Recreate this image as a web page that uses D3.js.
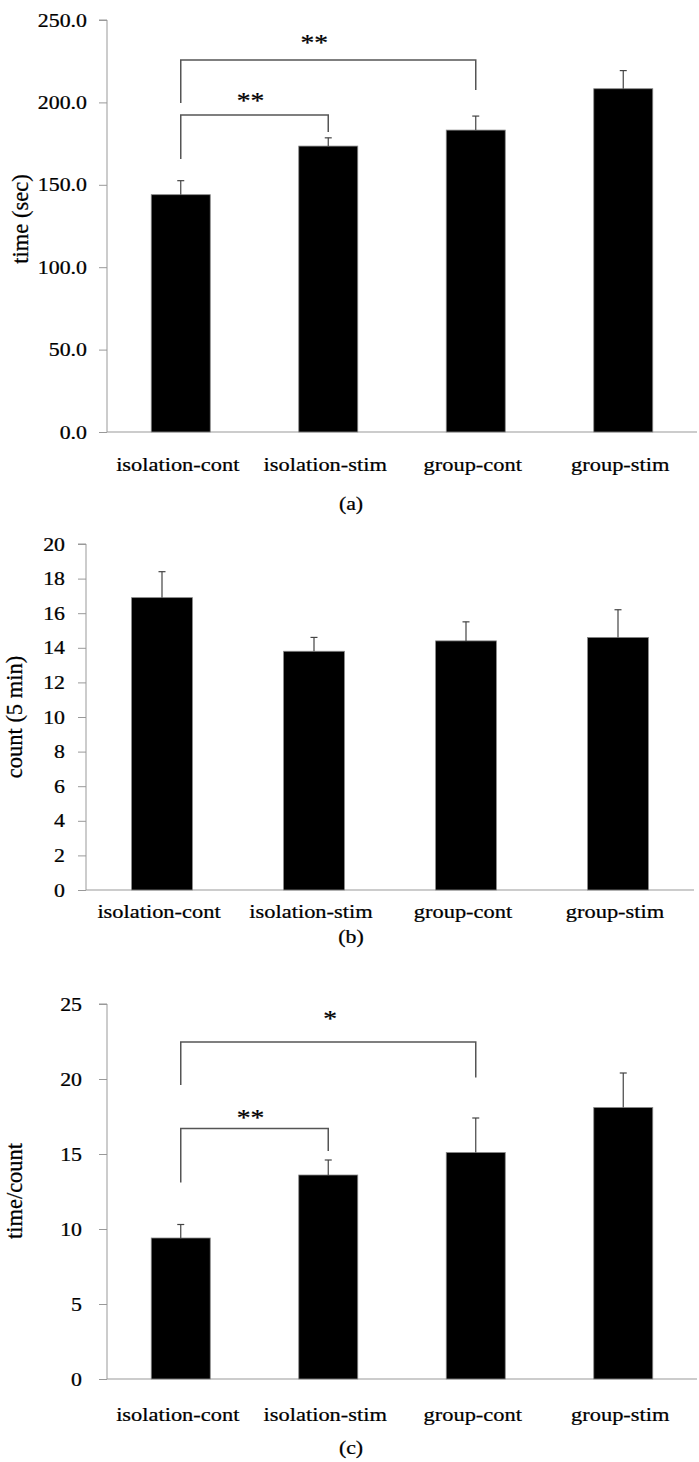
<!DOCTYPE html>
<html><head><meta charset="utf-8">
<script src="https://cdn.jsdelivr.net/npm/d3@7"></script>
<style>body{margin:0;background:#fff}svg{display:block}text{font-family:"Liberation Serif","DejaVu Serif",serif;fill:#000;stroke:#000;stroke-width:0.25px}</style>
</head><body><svg id="c" width="699" height="1462"></svg>
<script>
const categories = ["isolation-cont","isolation-stim","group-cont","group-stim"];
const timeMeans = [144.0, 173.5, 183.2, 208.3];
const timeErrs = [8.5, 5.0, 8.5, 11.0];
const timeTicks = [0, 50, 100, 150, 200, 250];
const countMeans = [16.9, 13.8, 14.4, 14.6];
const countErrs = [1.5, 0.8, 1.1, 1.6];
const countTicks = [0, 2, 4, 6, 8, 10, 12, 14, 16, 18, 20];
const ratioMeans = [9.4, 13.6, 15.1, 18.1];
const ratioErrs = [0.9, 1.0, 2.3, 2.3];
const ratioTicks = [0, 5, 10, 15, 20, 25];
const timeBrackets = [
  {from:0, to:1, y:192.4, yl:165.7, yr:182.0, label:"**", ly:204.5, dx:0},
  {from:0, to:2, y:225.7, yl:199.6, yr:207.5, label:"**", ly:239.7, dx:-10}
];
const ratioBrackets = [
  {from:0, to:1, y:16.7, yl:13.1, yr:15.2, label:"**", ly:17.8, dx:0},
  {from:0, to:2, y:22.47, yl:19.6, yr:20.1, label:"*", ly:24.4, dx:6}
];

const svg = d3.select("#c");
svg.append("rect").attr("width",699).attr("height",1462).attr("fill","#fff");
const SX = 1.15;

function stext(g, x, y, str, size, anchor){
  return g.append("text").attr("transform",`translate(${x},${y}) scale(${SX},1)`)
    .attr("text-anchor",anchor).style("font-size",size+"px").text(str);
}

function panel(cfg){
  const g = svg.append("g");
  const x = d3.scaleBand().domain(categories).range([cfg.x0, cfg.x1]).paddingInner(0.6).paddingOuter(0.3);
  const y = d3.scaleLinear().domain([0, cfg.max]).range([cfg.yz, cfg.yt]);
  const ya = g.append("g").attr("transform",`translate(${cfg.x0},0)`)
    .call(d3.axisLeft(y).tickValues(cfg.ticks).tickSize(8).tickFormat(()=>""));
  ya.select(".domain").attr("stroke","#999").attr("d",`M-8,${cfg.yt}H0V${cfg.yz}`);
  ya.selectAll(".tick line").attr("stroke","#999");
  cfg.ticks.forEach(t=>{
    stext(g, cfg.labX, y(t)+6.5, cfg.fmt(t), 19, "end");
  });
  const xa = g.append("g").attr("transform",`translate(0,${cfg.yz})`)
    .call(d3.axisBottom(x).tickSize(0).tickFormat(()=>""));
  xa.select(".domain").attr("stroke","#999").attr("d",`M${cfg.x0},0H${cfg.x1}`);
  g.selectAll("rect.bar").data(cfg.means).join("rect").attr("class","bar")
    .attr("x",(d,i)=>x(categories[i])).attr("width",x.bandwidth())
    .attr("y",d=>y(d)).attr("height",d=>y(0)-y(d))
    .attr("fill","#000").attr("stroke","#888").attr("stroke-width",0.8);
  cfg.means.forEach((m,i)=>{
    const cx = x(categories[i]) + x.bandwidth()/2;
    const top = y(m + cfg.errs[i]);
    g.append("line").attr("x1",cx).attr("x2",cx).attr("y1",y(m)).attr("y2",top).attr("stroke","#444").attr("stroke-width",1.2);
    g.append("line").attr("x1",cx-3.5).attr("x2",cx+3.5).attr("y1",top).attr("y2",top).attr("stroke","#444").attr("stroke-width",1.2);
  });
  categories.forEach(c=>{
    stext(g, x(c)+x.bandwidth()/2 - 3, cfg.xlabY, c, 19.5, "middle");
  });
  stext(g, 351, cfg.capY, cfg.cap, 19, "middle");
  g.append("text").attr("transform",`translate(${cfg.ylX},${cfg.ylY}) rotate(-90)`)
    .attr("text-anchor","middle").style("font-size","22.5px").text(cfg.ylab);
  (cfg.brackets||[]).forEach(b=>{
    const xl = x(categories[b.from]) + x.bandwidth()/2;
    const xr = x(categories[b.to]) + x.bandwidth()/2;
    g.append("path").attr("d",`M${xl},${y(b.yl)}V${y(b.y)}H${xr}V${y(b.yr)}`)
      .attr("fill","none").attr("stroke","#555").attr("stroke-width",1.5);
    stext(g, (xl+xr)/2 - 4 + b.dx, y(b.ly)+13, b.label, 24, "middle");
  });
}

panel({x0:107, x1:697, yz:432, yt:20, max:250, ticks:timeTicks, fmt:d3.format(".1f"),
  means:timeMeans, errs:timeErrs, labX:87, xlabY:471, capY:510, cap:"(a)",
  ylab:"time (sec)", ylX:28, ylY:219, brackets:timeBrackets});
panel({x0:86, x1:694, yz:890, yt:544, max:20, ticks:countTicks, fmt:d3.format("d"),
  means:countMeans, errs:countErrs, labX:65, xlabY:918, capY:943, cap:"(b)",
  ylab:"count (5 min)", ylX:22, ylY:717});
panel({x0:107, x1:697, yz:1379, yt:1004, max:25, ticks:ratioTicks, fmt:d3.format("d"),
  means:ratioMeans, errs:ratioErrs, labX:82, xlabY:1421, capY:1454, cap:"(c)",
  ylab:"time/count", ylX:22, ylY:1191, brackets:ratioBrackets});
</script></body></html>
